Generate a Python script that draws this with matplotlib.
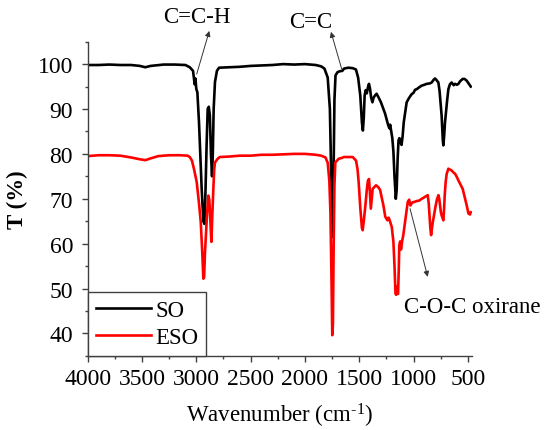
import matplotlib
matplotlib.use("Agg")
import matplotlib.pyplot as plt
from matplotlib.ticker import MultipleLocator

plt.rcParams['font.family'] = ['Liberation Serif', 'DejaVu Serif']
plt.rcParams['mathtext.fontset'] = 'custom'
plt.rcParams['mathtext.rm'] = 'Liberation Serif'
plt.rcParams['mathtext.it'] = 'Liberation Serif:italic'
plt.rcParams['mathtext.bf'] = 'Liberation Serif:bold'

# ---- data (wavenumber cm-1, transmittance %) ----
so_wn = [4000, 3900, 3800, 3700, 3600, 3520, 3470, 3420, 3300, 3200, 3100, 3060, 3030, 3015, 3008,
         3000, 2990, 2975, 2965, 2950, 2935, 2925, 2915, 2905, 2895, 2885, 2875, 2865, 2855, 2848,
         2840, 2828, 2810, 2790, 2700, 2600, 2500, 2400, 2300, 2200, 2100, 2000, 1900, 1850, 1820,
         1790, 1770, 1760, 1750, 1743, 1736, 1728, 1718, 1700, 1680, 1655, 1640, 1600, 1560, 1530,
         1510, 1490, 1475, 1466, 1458, 1450, 1440, 1430, 1418, 1410, 1400, 1390, 1378, 1368, 1355,
         1340, 1320, 1300, 1280, 1262, 1245, 1232, 1222, 1215, 1205, 1195, 1185, 1175, 1163, 1155,
         1146, 1138, 1130, 1120, 1110, 1100, 1090, 1075, 1063, 1040, 1017, 1000, 985, 971, 950,
         925, 900, 879, 850, 833, 815, 802, 790, 771, 760, 750, 741, 730, 725, 718,
         710, 704, 690, 679, 665, 649, 630, 618, 600, 587, 570, 547, 530, 510, 490, 473]
so_t = [99.8, 99.8, 99.9, 99.8, 99.8, 99.6, 99.3, 99.6, 99.9, 99.9, 99.8, 99.3, 98.5, 95.5, 96.8,
        94.5, 93.7, 87.0, 81.0, 72.0, 65.0, 64.4, 72.0, 82.0, 90.0, 90.5, 88.5, 80.0, 75.0, 80.0,
        90.0, 96.0, 98.5, 99.2, 99.3, 99.4, 99.6, 99.7, 99.8, 100.0, 99.9, 100.0, 99.8, 99.5, 99.0,
        97.0, 90.0, 78.0, 62.0, 61.5, 75.0, 92.0, 97.5, 98.2, 98.4, 98.5, 99.0, 99.2, 99.1, 98.8,
        97.0, 93.0, 87.0, 85.2, 88.0, 93.0, 94.2, 93.5, 95.0, 95.6, 94.5, 92.5, 91.5, 92.5, 93.0,
        93.4, 92.5, 91.5, 90.2, 89.0, 87.5, 86.3, 85.7, 86.5, 85.0, 83.5, 80.5, 75.0, 70.0, 72.0,
        78.9, 83.0, 83.5, 82.5, 82.0, 84.0, 87.0, 89.5, 91.5, 92.5, 93.3, 93.6, 94.3, 94.4, 94.8,
        95.2, 95.4, 95.6, 95.7, 95.9, 96.5, 96.8, 96.5, 95.9, 94.0, 91.0, 88.5, 83.0, 81.9, 84.0,
        87.0, 88.5, 92.0, 94.4, 95.5, 95.9, 95.3, 95.6, 95.4, 95.6, 96.2, 96.7, 96.7, 96.3, 95.6, 95.0]

eso_wn = [4000, 3900, 3800, 3700, 3600, 3520, 3470, 3420, 3350, 3250, 3150, 3080, 3060, 3040, 3020,
          2996, 2975, 2959, 2945, 2935, 2928, 2920, 2910, 2900, 2889, 2880, 2872, 2861, 2853, 2843,
          2835, 2828, 2800, 2782, 2700, 2600, 2500, 2400, 2300, 2200, 2100, 2000, 1900, 1850, 1810,
          1790, 1775, 1765, 1755, 1748, 1742, 1735, 1728, 1720, 1700, 1690, 1660, 1640, 1600, 1560,
          1529, 1515, 1505, 1490, 1475, 1468, 1458, 1443, 1430, 1420, 1410, 1403, 1393, 1385, 1376,
          1365, 1345, 1325, 1308, 1290, 1277, 1260, 1240, 1230, 1222, 1210, 1200, 1190, 1185, 1175,
          1166, 1160, 1154, 1148, 1142, 1135, 1131, 1123, 1115, 1105, 1094, 1085, 1075, 1063, 1053,
          1040, 1029, 1010, 992, 970, 946, 925, 909, 890, 869, 860, 853, 845, 838, 830,
          822, 810, 801, 785, 771, 763, 756, 748, 741, 730, 725, 718, 712, 704, 695,
          679, 665, 649, 630, 618, 600, 587, 570, 547, 530, 510, 494, 480, 473]
eso_t = [79.5, 79.7, 79.7, 79.6, 79.2, 78.8, 78.6, 79.0, 79.5, 79.7, 79.7, 79.6, 79.3, 78.5, 76.5,
         73.7, 69.0, 64.8, 58.0, 52.2, 52.5, 58.0, 62.6, 67.0, 70.7, 69.8, 66.0, 60.4, 66.0, 72.2,
         76.5, 78.1, 79.0, 79.3, 79.4, 79.6, 79.6, 79.8, 79.8, 79.9, 80.0, 80.0, 79.8, 79.6, 79.2,
         78.0, 74.0, 67.0, 52.0, 39.6, 42.0, 60.0, 73.0, 78.1, 78.6, 78.9, 79.1, 79.3, 79.3, 79.3,
         78.5, 76.5, 73.7, 68.0, 63.5, 63.0, 65.0, 68.5, 72.0, 74.0, 74.4, 72.0, 67.8, 70.0, 72.2,
         72.5, 73.0, 72.6, 72.0, 70.0, 68.5, 66.0, 65.2, 65.8, 65.4, 64.5, 63.7, 61.5, 60.4, 55.0,
         49.0, 48.6, 50.5, 49.0, 48.8, 55.0, 59.6, 60.5, 58.7, 60.5, 61.9, 63.5, 65.4, 67.5, 69.3,
         69.8, 68.5, 69.2, 69.3, 69.5, 69.6, 70.0, 70.2, 70.5, 70.8, 69.0, 66.3, 63.5, 61.9, 63.5,
         64.8, 66.5, 67.8, 69.8, 70.8, 70.0, 68.5, 67.0, 66.3, 65.5, 65.2, 68.0, 71.0, 73.7, 75.5,
         76.7, 76.5, 76.3, 75.8, 75.6, 74.8, 74.1, 73.3, 72.2, 70.5, 68.5, 66.7, 66.5, 67.0]

series_labels = ["SO", "ESO"]
x_ticks = [4000, 3500, 3000, 2500, 2000, 1500, 1000, 500]
y_ticks = [40, 50, 60, 70, 80, 90, 100]

fig = plt.figure(figsize=(5.48, 4.31), dpi=100)
ax = fig.add_axes([0.160, 0.172, 0.701, 0.729])

ax.plot(so_wn, so_t, color='black', lw=1.9, label=series_labels[0])
ax.plot(eso_wn, eso_t, color='#ff0000', lw=1.9, label=series_labels[1])

ax.set_xlim(4000, 463)
ax.set_ylim(35, 105)
ax.set_xticks(x_ticks)
ax.set_yticks(y_ticks)
ax.xaxis.set_minor_locator(MultipleLocator(250))
ax.yaxis.set_minor_locator(MultipleLocator(5))

spine_col = '#404040'
for s in ['top', 'right']:
    ax.spines[s].set_visible(False)
for s in ['left', 'bottom']:
    ax.spines[s].set_color(spine_col)
    ax.spines[s].set_linewidth(1.0)
ax.tick_params(which='major', direction='out', length=4.5, width=1.0, color=spine_col,
               labelsize=17, pad=4)
ax.tick_params(axis='y', which='major', pad=6)
ax.tick_params(which='minor', direction='out', length=2.5, width=1.0, color=spine_col)

ax.set_xlabel(r'Wavenumber (cm$^{\text{-}1}$)', fontsize=16.5, labelpad=9)
ax.set_ylabel('T (%)', fontsize=16.5, fontweight='bold', labelpad=7)

leg = ax.legend(loc='lower left', bbox_to_anchor=(0, 0), borderaxespad=0, fancybox=False,
                edgecolor=spine_col, fontsize=16.5, handlelength=2.4, handletextpad=0.2,
                labelspacing=0.25, borderpad=0.35, framealpha=1)
leg.get_frame().set_linewidth(1.0)

arrow_kw = dict(arrowstyle='-|>', color='#333333', lw=0.7, mutation_scale=8, shrinkA=0, shrinkB=0)
ax.annotate('', xy=(2880, 107.4), xytext=(2996, 97.8), arrowprops=arrow_kw, annotation_clip=False)
ax.text(2994, 110.7, 'C=C-H', ha='center', va='center', fontsize=16.5, clip_on=False)
ax.annotate('', xy=(1760, 107.2), xytext=(1661, 98.9), arrowprops=arrow_kw, annotation_clip=False)
ax.text(1944, 109.6, 'C=C', ha='center', va='center', fontsize=16.5, clip_on=False)
ax.annotate('', xy=(869, 52.6), xytext=(1032, 67.8), arrowprops=arrow_kw, annotation_clip=False)
ax.text(461, 45.9, 'C-O-C oxirane', ha='center', va='center', fontsize=16.5, clip_on=False)

fig.savefig('out.png', dpi=100)
